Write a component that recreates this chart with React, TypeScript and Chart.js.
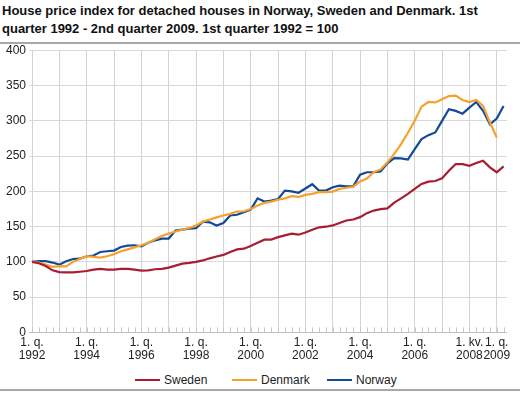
import React, { useEffect, useRef } from 'react';
import { Chart, registerables } from 'chart.js';
Chart.register(...registerables);

const FONT = '"Liberation Sans", Arial, Helvetica, sans-serif';

const title1 = 'House price index for detached houses in Norway, Sweden and Denmark. 1st';
const title2 = 'quarter 1992 - 2nd quarter 2009. 1st quarter 1992 = 100';

// 70 quarters, 1992 Q1 .. 2009 Q2
const startYear = 1992;
const quarterCount = 70;

const tickIndex = [0, 8, 16, 24, 32, 40, 48, 56, 64, 68];
const tickText = [
  ['1. q.', '1992'], ['1. q.', '1994'], ['1. q.', '1996'], ['1. q.', '1998'],
  ['1. q.', '2000'], ['1. q.', '2002'], ['1. q.', '2004'], ['1. q.', '2006'],
  ['1. kv.', '2008'], ['1. q.', '2009'],
];

const yTicks = [0, 50, 100, 150, 200, 250, 300, 350, 400];

const sweden = [
  100, 98, 94, 88, 85.5, 85, 85, 86, 87, 89, 90, 89, 89, 90, 90, 89, 87.6, 88, 89.5, 90,
  91.8, 94.7, 97.5, 98.5, 100, 102, 105, 107.5, 109.8, 114, 117.7, 118.7, 122.5, 127, 131.4, 131.6, 135, 137.5, 140, 138.5,
  141.5, 145.5, 149, 149.8, 151.6, 155, 158.6, 160, 163.4, 169, 172.7, 174.7, 175.8, 184, 190, 196.3, 203.4, 210.4, 213.7, 214.6,
  218.4, 229, 238.6, 238.6, 236.2, 240, 243.3, 234, 227, 235.4,
];

const denmark = [
  100, 99, 96, 93, 94, 93.5, 100, 104, 108, 107, 106, 108, 111, 115, 117.7, 120.5, 123.5, 127, 132, 136.6,
  140, 143, 145.7, 148, 151.6, 157, 160, 163, 165.7, 168, 171.3, 171.7, 175, 179.8, 183.6, 185.4, 188, 190, 193, 192,
  195, 196.3, 198.7, 198.7, 199.6, 203.4, 205, 206.5, 214, 218, 227, 231, 241, 253, 267, 283, 300, 320, 326.6, 326,
  330.4, 335, 335.6, 329.4, 326.6, 329.4, 321, 297.5, 276.3, null,
];

const norway = [
  100, 101, 101, 99, 96, 100.8, 104, 104.5, 108, 109, 114, 115, 116, 121, 123, 123.5, 122, 127, 130.5, 133,
  133, 144.5, 145.7, 147, 147.7, 157, 156, 151.6, 155, 165.7, 166.7, 170.5, 174, 190, 185.4, 186.8, 189, 201, 200, 198,
  204, 210, 201, 201, 205.8, 208, 207, 207, 223.6, 227, 227, 228, 239.6, 247, 246.7, 245, 259.8, 274, 279.6, 283.4,
  299.8, 316.3, 314, 310, 318.6, 326.6, 314, 295, 303, 321,
];

const seriesNames = ['Sweden', 'Denmark', 'Norway'];
const seriesColors = ['#a71d31', '#f7a12d', '#124a9a'];
const legendLeft = [135, 232, 327];

const quarterLabels: string[] = [];
for (let i = 0; i < quarterCount; i++) {
  quarterLabels.push(`${startYear + Math.floor(i / 4)} Q${(i % 4) + 1}`);
}

function toPoints(arr: (number | null)[]) {
  return arr
    .map((v, i) => (v === null ? null : { x: i, y: v }))
    .filter((p) => p !== null) as { x: number; y: number }[];
}

const minorTicks = {
  id: 'minorTicks',
  afterDatasetsDraw(chart: any) {
    const xs = chart.scales.x;
    const ys = chart.scales.y;
    const ctx = chart.ctx;
    const y0 = ys.getPixelForValue(0);
    ctx.save();
    ctx.strokeStyle = '#c8c8c8';
    ctx.lineWidth = 1;
    for (let i = 0; i < quarterLabels.length; i++) {
      const x = Math.round(xs.getPixelForValue(i)) + 0.5;
      ctx.beginPath();
      ctx.moveTo(x, y0);
      ctx.lineTo(x, y0 - 5);
      ctx.stroke();
    }
    ctx.restore();
  },
};

export default function App() {
  const ref = useRef<HTMLCanvasElement | null>(null);
  useEffect(() => {
    document.body.style.margin = '0';
    if (!ref.current) return;
    const data = [sweden, denmark, norway];
    const chart = new Chart(ref.current, {
      type: 'line',
      data: {
        datasets: data.map((arr, k) => ({
          label: seriesNames[k],
          data: toPoints(arr),
          borderColor: seriesColors[k],
          backgroundColor: seriesColors[k],
          borderWidth: 2.2,
          pointRadius: 0,
          tension: 0,
          fill: false,
        })),
      },
      plugins: [minorTicks],
      options: {
        animation: false,
        responsive: false,
        maintainAspectRatio: false,
        layout: { padding: { left: 3, right: 13, top: 3, bottom: 0 } },
        plugins: {
          legend: { display: false },
          tooltip: { enabled: false },
        },
        scales: {
          x: {
            type: 'linear',
            min: 0,
            max: quarterCount - 0.5,
            afterBuildTicks(scale: any) {
              scale.ticks = quarterLabels.map((_, i) => ({ value: i }));
            },
            ticks: {
              autoSkip: false,
              maxRotation: 0,
              minRotation: 0,
              padding: 3,
              color: '#222',
              font: { family: FONT, size: 12, lineHeight: 1.15 },
              callback: (value: any) => {
                const idx = tickIndex.indexOf(Number(value));
                return idx >= 0 ? tickText[idx] : '';
              },
            },
            grid: {
              drawTicks: false,
              color: (c: any) => (c.tick && c.tick.value % 4 === 0 ? '#d4d4d4' : 'rgba(0,0,0,0)'),
              lineWidth: 1,
            },
            border: { display: false },
          },
          y: {
            min: 0,
            max: 400,
            afterBuildTicks(scale: any) {
              scale.ticks = yTicks.map((v) => ({ value: v }));
            },
            ticks: {
              padding: 3,
              color: '#222',
              font: { family: FONT, size: 12 },
            },
            grid: {
              color: (c: any) => (c.tick && c.tick.value === 0 ? '#c0c0c0' : '#d9d9d9'),
              lineWidth: 1,
              drawTicks: true,
              tickLength: 3,
            },
            border: { display: false },
          },
        },
      },
    });
    return () => chart.destroy();
  }, []);

  return (
    <div style={{ position: 'relative', width: 520, height: 393, background: '#fff', fontFamily: FONT, overflow: 'hidden' }}>
      <div style={{ position: 'absolute', left: 2, top: 2, fontSize: 13, fontWeight: 'bold', lineHeight: '18px', color: '#111', whiteSpace: 'nowrap' }}>
        <div>{title1}</div>
        <div>{title2}</div>
      </div>
      <div style={{ position: 'absolute', left: 0, top: 42, width: 520, height: 2, background: '#a8a8a8' }} />
      <canvas ref={ref} width={520} height={326} style={{ position: 'absolute', left: 0, top: 40, width: 520, height: 326 }} />
      {seriesNames.map((name, k) => (
        <div key={name} style={{ position: 'absolute', left: legendLeft[k], top: 372, height: 16, display: 'flex', alignItems: 'center', fontSize: 12, color: '#222' }}>
          <span style={{ display: 'inline-block', width: 25, height: 2, background: seriesColors[k], marginRight: 4 }} />
          <span>{name}</span>
        </div>
      ))}
      <div style={{ position: 'absolute', left: 0, top: 389, width: 520, height: 2, background: '#a8a8a8' }} />
    </div>
  );
}
